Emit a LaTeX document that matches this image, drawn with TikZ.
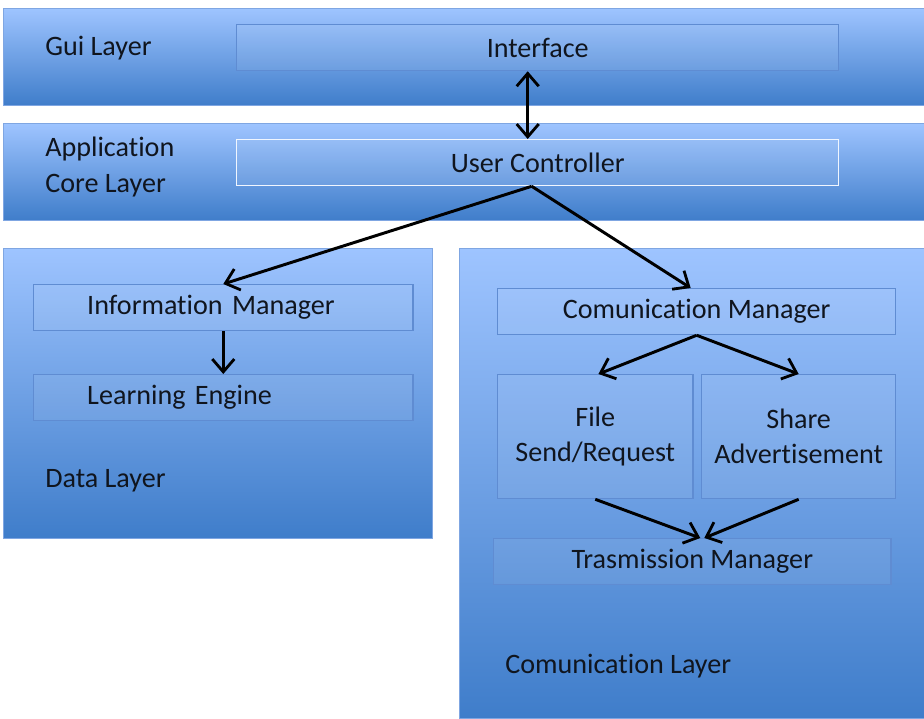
\documentclass[tikz,border=0pt]{standalone}
\usepackage{fontspec}
\setmainfont{Carlito}[Ligatures={TeX,NoCommon}]
\usepackage{tikz}
\usetikzlibrary{positioning,arrows.meta}
\definecolor{bandtop}{HTML}{9EC4FF}
\definecolor{bandbot}{HTML}{3F7DCA}
\definecolor{bandln}{HTML}{7FA6E2}
\definecolor{boxln}{HTML}{5F8CD2}
\definecolor{txt}{HTML}{10151E}
\tikzset{
  >={Straight Barb[length=3.2mm, width=5.5mm, line width=2pt]},
  layer/.style={draw=bandln, line width=0.6pt, top color=bandtop, bottom color=bandbot,
                anchor=north west, inner sep=0pt},
  box/.style={draw=boxln, line width=0.9pt, fill=white, fill opacity=0.07, text opacity=1,
              anchor=north west, minimum height=1.15cm, align=center, inner sep=0pt,
              font=\fontsize{20}{25}\selectfont, text=txt},
  lbox/.style={box, align=left},
  lname/.style={anchor=west, align=left, inner sep=0pt, font=\fontsize{20}{25}\selectfont, text=txt},
  l/.style={->, line width=2.1pt, draw=black},
}
\begin{document}
\begin{tikzpicture}[x=0.025cm, y=-0.025cm]
  \useasboundingbox (0,0) rectangle (924,718);
  % layers
  \node[layer, minimum width=23.03cm, minimum height=2.43cm] (gui) at (3,8) {};
  \node[layer, minimum width=23.03cm, minimum height=2.43cm] (core) at (3,123) {};
  \node[layer, minimum width=10.73cm, minimum height=7.25cm] (data) at (3,248) {};
  \node[layer, minimum width=11.63cm, minimum height=11.75cm] (comm) at (459,248) {};
  \node[lname] (guiname) at (45,48) {Gui Layer};
  \node[lname] (corename) at (45,167) {Application\\Core Layer};
  \node[lname] (dataname) at (45,481) {Data Layer};
  \node[lname] (commname) at (505,666) {Comunication Layer};
  % components
  \node[box, minimum width=15.05cm] (iface) at (236,24) {Interface};
  \node[box, minimum width=15.05cm, draw=white!85!bandtop] (ctrl) at (236,139) {User Controller};
  \node[lbox, minimum width=9.48cm, text width=6.8cm, inner xsep=1.29cm] (info) at (33,284) {Information Manager};
  \node[lbox, minimum width=9.48cm, text width=6.8cm, inner xsep=1.29cm] (learn) at (33,374) {Learning Engine};
  \node[box, minimum width=9.95cm] (cman) at (497,288) {Comunication Manager};
  \node[box, minimum width=4.88cm, minimum height=3.1cm] (file) at (497,374) {File\\Send/Request};
  \node[box, minimum width=4.85cm, minimum height=3.1cm] (share) at (701,374) {Share\\Advertisement};
  \node[box, minimum width=9.93cm] (tman) at (493,538) {Trasmission Manager};
  % connectors
  \draw[l, <->] ([xshift=-0.25cm]iface.south) -- ([xshift=-0.25cm]ctrl.north);
  \draw[l] ([xshift=-0.15cm]ctrl.south) -- (info.north);
  \draw[l] ([xshift=-0.15cm]ctrl.south) -- ([xshift=-0.15cm]cman.north);
  \draw[l] (info.south) -- (learn.north);
  \draw[l] (cman.south) -- ([xshift=0.08cm]file.north);
  \draw[l] (cman.south) -- (share.north);
  \draw[l] (file.south) -- ([xshift=0.2cm]tman.north);
  \draw[l] (share.south) -- ([xshift=0.3cm]tman.north);
\end{tikzpicture}
\end{document}
